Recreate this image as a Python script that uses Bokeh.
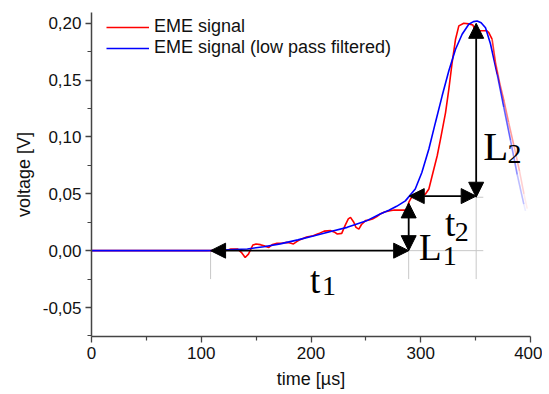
import numpy as np
from bokeh.plotting import figure
from bokeh.models import (Range1d, FixedTicker, Legend, LegendItem, Arrow,
                          NormalHead, CustomJSTickFormatter)
from bokeh.core.properties import value
from bokeh.embed import file_html
from bokeh.resources import INLINE

# ---------------- data ----------------
time_raw = [0, 120, 124, 127, 133, 137, 140, 143, 147, 150, 154, 158, 161.6, 165, 169,
            174, 178, 181, 184, 187, 190, 196, 202, 207, 212, 218, 221, 224, 228, 231,
            234, 236, 239, 241, 243.6, 246, 249.7, 253, 256, 260, 263, 267, 272, 276,
            282, 287.6, 289.1, 291, 293.7, 301, 304.3, 307.4, 310.4, 315, 318, 322.6,
            325.6, 328.6, 331.7, 334.7, 339.2, 343.8, 347.5, 349, 354.4, 360, 362, 365,
            368, 372, 376, 380, 385, 390, 394, 397]
volt_raw = [0, 0, 0.0005, 0.0015, 0.0015, -0.002, -0.006, -0.003, 0.005, 0.0058, 0.0053,
            0.004, 0.0029, 0.0055, 0.0064, 0.0068, 0.0073, 0.0068, 0.0059, 0.008, 0.0097,
            0.012, 0.0132, 0.015, 0.0172, 0.0176, 0.0165, 0.0147, 0.0152, 0.022, 0.028,
            0.0293, 0.025, 0.0205, 0.019, 0.023, 0.0264, 0.027, 0.0278, 0.030, 0.0322,
            0.034, 0.0351, 0.0357, 0.0357, 0.0357, 0.0425, 0.046, 0.0483, 0.0485, 0.0498,
            0.0542, 0.0659, 0.0835, 0.0981, 0.1215, 0.1421, 0.1655, 0.186, 0.1977, 0.2001,
            0.1995, 0.1985, 0.195, 0.1935, 0.1935, 0.1918, 0.186, 0.166, 0.147, 0.131,
            0.113, 0.092, 0.070, 0.050, 0.037]

time_lp = [0, 105, 115, 125, 142, 157, 172, 188, 203, 218, 233, 250, 263, 271, 278, 286,
           295, 301, 307.4, 313.4, 319.5, 325.6, 331.7, 337.7, 343.8, 348, 351.4, 355,
           359, 363.5, 369.7, 375.7, 381.8, 387.9, 393.9, 395.4]
volt_lp = [0, 0, 0.0003, 0.0008, 0.0015, 0.0035, 0.006, 0.0095, 0.0132, 0.0168, 0.0205,
           0.026, 0.0322, 0.0355, 0.039, 0.0438, 0.0542, 0.0688, 0.0894, 0.1128, 0.1362,
           0.1582, 0.1772, 0.1904, 0.1992, 0.2015, 0.2021, 0.2005, 0.196, 0.182, 0.155,
           0.126, 0.097, 0.067, 0.041, 0.035]

x_ticks = [0, 100, 200, 300, 400]
x_minor = [50, 150, 250, 350]
y_ticks = [-0.05, 0.0, 0.05, 0.10, 0.15, 0.20]
y_minor = [-0.075, -0.025, 0.025, 0.075, 0.125, 0.175]

# annotation geometry (data units)
t1_span = [108.5, 289.0]      # at voltage 0
L1_span = [0.0, 0.042]        # at time 289
t2_span = [289.5, 350.5]      # at voltage 0.048
t2_level = 0.048
L2_span = [0.047, 0.2]        # at time 350.5
fade_from = 365.0

# ---------------- figure ----------------
p = figure(frame_width=439, frame_height=324, output_backend="svg",
           toolbar_location=None, x_range=Range1d(0, 400),
           y_range=Range1d(-0.0755, 0.2095),
           min_border_left=91, min_border_right=12, min_border_top=12,
           min_border_bottom=50)
p.outline_line_color = None
p.xgrid.visible = False
p.ygrid.visible = False
p.background_fill_color = "white"

axis_col = "#444444"
for ax in (p.xaxis[0], p.yaxis[0]):
    ax.axis_line_color = axis_col
    ax.axis_line_width = 1.5
    ax.major_tick_line_color = axis_col
    ax.minor_tick_line_color = axis_col
    ax.major_tick_line_width = 1.3
    ax.minor_tick_line_width = 1.2
    ax.major_tick_out = 6
    ax.major_tick_in = 0
    ax.minor_tick_out = 4
    ax.minor_tick_in = 0
    ax.major_label_text_font = "Liberation Sans"
    ax.major_label_text_font_size = "17px"
    ax.major_label_text_color = "#111111"
    ax.axis_label_text_font = "Liberation Sans"
    ax.axis_label_text_font_size = "18px"
    ax.axis_label_text_font_style = "normal"
    ax.axis_label_text_color = "#111111"

p.xaxis.ticker = FixedTicker(ticks=x_ticks, minor_ticks=x_minor)
p.yaxis.ticker = FixedTicker(ticks=y_ticks, minor_ticks=y_minor)
p.yaxis.formatter = CustomJSTickFormatter(code="return tick.toFixed(2).replace('.', ',');")
p.xaxis.axis_label = "time [µs]"
p.yaxis.axis_label = "voltage [V]"
p.xaxis.major_label_standoff = 4
p.yaxis.major_label_standoff = 4
p.xaxis.axis_label_standoff = 7
p.yaxis.axis_label_standoff = 6

# ---------------- guide lines ----------------
gray = "#c8c8c8"
p.segment(x0=[t1_span[0], t1_span[1], 350.5, t1_span[1], 350.5],
          y0=[0, L1_span[1], L2_span[0], 0, L2_span[0]],
          x1=[t1_span[0], t1_span[1], 350.5, 357, 357],
          y1=[-0.025, -0.025, -0.025, 0, L2_span[0]],
          line_color=gray, line_width=1)

# ---------------- curves ----------------
def split(xs, ys):
    xs = np.asarray(xs, float)
    ys = np.asarray(ys, float)
    k = int(np.searchsorted(xs, fade_from))
    return xs[:k + 1], ys[:k + 1], xs[k:], ys[k:]

rx, ry, rtx, rty = split(time_raw, volt_raw)
bx, by, btx, bty = split(time_lp, volt_lp)

r_red = p.line(rx, ry, line_color="#ff0000", line_width=1.6)
r_blue = p.line(bx, by, line_color="#0000ff", line_width=1.6)

for tx, ty, col in ((rtx, rty, "#ff0000"), (btx, bty, "#0000ff")):
    n = len(tx) - 1
    alphas = np.linspace(0.8, 0.08, n)
    p.segment(x0=tx[:-1], y0=ty[:-1], x1=tx[1:], y1=ty[1:],
              line_color=col, line_width=1.6, line_alpha=alphas)

# ---------------- arrows ----------------
def head():
    return NormalHead(size=15, fill_color="black", line_color="black", line_width=1)

arrows = [
    (t1_span[0], 0, t1_span[1], 0),
    (t1_span[1], L1_span[0], t1_span[1], L1_span[1]),
    (t2_span[0], t2_level, t2_span[1], t2_level),
    (350.5, L2_span[0], 350.5, L2_span[1]),
]
for x0, y0, x1, y1 in arrows:
    p.add_layout(Arrow(start=head(), end=head(), x_start=x0, y_start=y0,
                       x_end=x1, y_end=y1, line_color="black", line_width=1.8))

# ---------------- labels ----------------
main_x = [199.0, 298.5, 322.0, 357.0]
main_y = [-0.0264, 0.0025, 0.0235, 0.0923]
main_t = ["t", "L", "t", "L"]
sub_x = [210.0, 320.0, 331.0, 379.0]
sub_y = [-0.031, -0.005, 0.016, 0.0852]
sub_t = ["1", "1", "2", "2"]

p.text(x=main_x[:3], y=main_y[:3], text=main_t[:3], text_font=value("Liberation Serif"),
       text_font_size="37px", text_baseline="alphabetic", text_align="left",
       text_color="black")
p.text(x=main_x[3:], y=main_y[3:], text=main_t[3:], text_font=value("Liberation Serif"),
       text_font_size="41px", text_baseline="alphabetic", text_align="left",
       text_color="black")
p.text(x=sub_x, y=sub_y, text=sub_t, text_font=value("Liberation Serif"),
       text_font_size="28px", text_baseline="alphabetic", text_align="left",
       text_color="black")

# ---------------- legend ----------------
legend = Legend(items=[LegendItem(label="EME signal", renderers=[r_red]),
                       LegendItem(label="EME signal (low pass filtered)", renderers=[r_blue])],
                location=(15, 278), padding=0, margin=0, spacing=0,
                glyph_width=43, glyph_height=20, label_height=20, label_standoff=5,
                label_text_font="Liberation Sans", label_text_font_size="18px",
                label_text_color="#111111",
                border_line_alpha=0, background_fill_alpha=0)
p.add_layout(legend)

open("out.html", "w").write(file_html(p, INLINE))
